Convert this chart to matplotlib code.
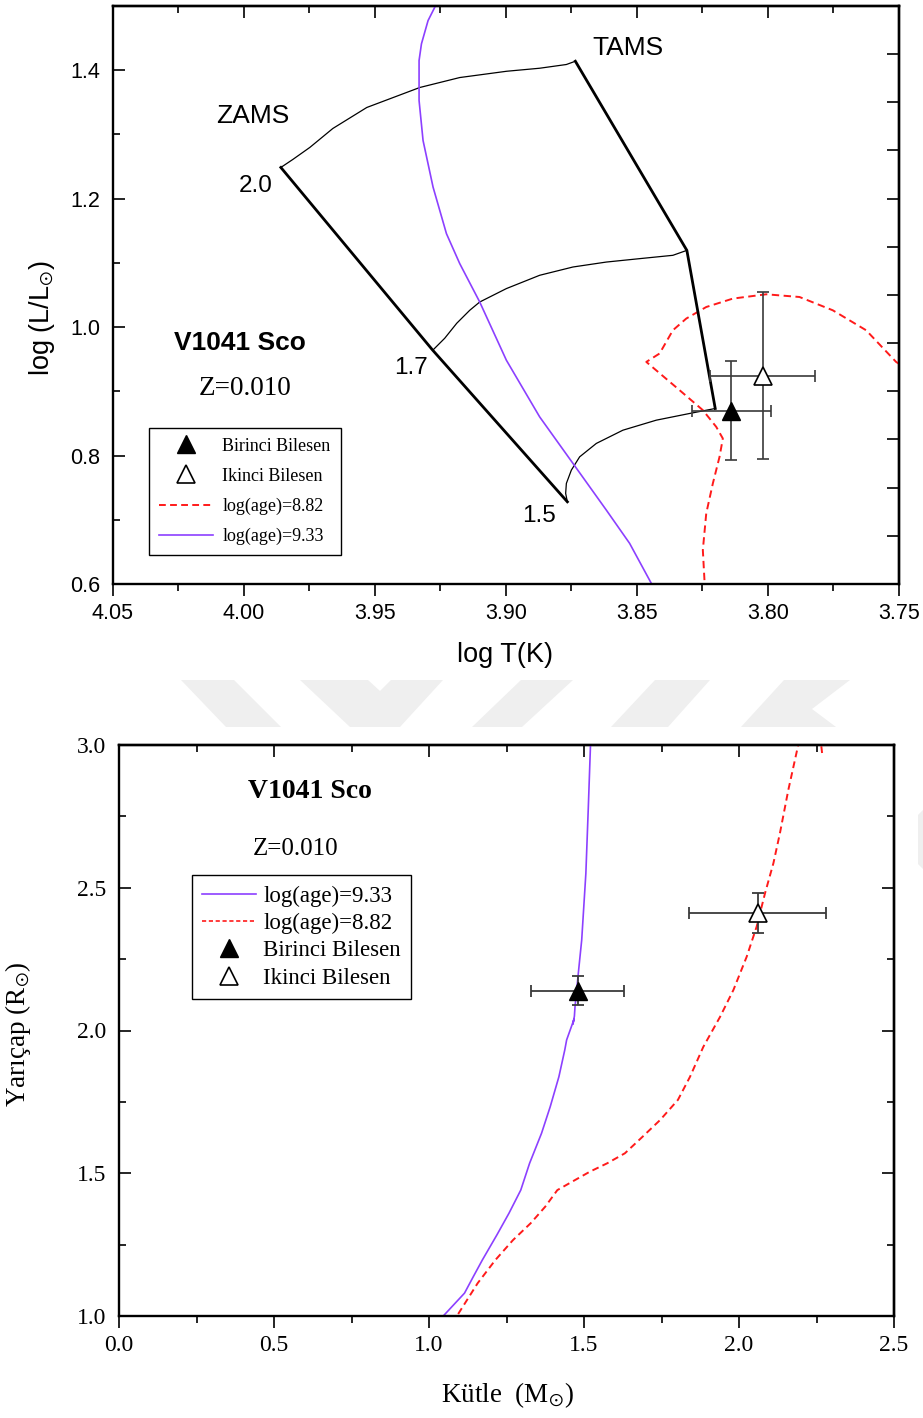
import numpy as np
import matplotlib
matplotlib.use("Agg")
import matplotlib.pyplot as plt
from matplotlib.lines import Line2D
from matplotlib.patches import Polygon

SANS = "Liberation Sans"
SERIF = "Liberation Serif"
plt.rcParams["mathtext.fontset"] = "stix"

PURPLE = "#8c40ff"
RED = "#ff1a1a"

# ---------------- HR diagram (log T, log L) ----------------
zams_logt = [3.98593, 3.92796, 3.87658]
zams_logl = [1.2486, 0.9640, 0.7280]
tams_logt = [3.87353, 3.83097, 3.82014]
tams_logl = [1.4140, 1.1195, 0.8733]

track20_logt = [3.98593, 3.98135, 3.97487, 3.96609, 3.95313, 3.93291, 3.91766,
                3.89973, 3.88715, 3.87696, 3.87353]
track20_logl = [1.2486, 1.2611, 1.2798, 1.3093, 1.3420, 1.3731, 1.3886,
                1.3984, 1.4031, 1.4089, 1.4140]
track17_logt = [3.92796, 3.92338, 3.91880, 3.91384, 3.91003, 3.89985, 3.88715,
                3.87445, 3.86171, 3.84901, 3.83630, 3.83097]
track17_logl = [0.9640, 0.9827, 1.0060, 1.0262, 1.0391, 1.0600, 1.0807,
                1.0936, 1.1013, 1.1066, 1.1118, 1.1195]
track15_logt = [3.87658, 3.87723, 3.87696, 3.87506, 3.87189, 3.86552, 3.85538,
                3.84264, 3.82994, 3.82014]
track15_logl = [0.7280, 0.7411, 0.7566, 0.7773, 0.7980, 0.8189, 0.8395,
                0.8551, 0.8655, 0.8733]

iso933_logt = [3.9264, 3.92719, 3.92975, 3.93227, 3.93318, 3.93318, 3.93166,
               3.92784, 3.92273, 3.91766, 3.91003, 3.89985, 3.88715, 3.87445,
               3.86171, 3.85282, 3.84455, 3.84405]
iso933_logl = [1.5084, 1.4980, 1.4773, 1.4411, 1.4151, 1.3529, 1.2906,
               1.2180, 1.1455, 1.0989, 1.0391, 0.9484, 0.8602, 0.7878,
               0.7151, 0.6633, 0.6011, 0.5907]
iso882_logt = [3.82441, 3.82422, 3.82487, 3.82357, 3.82105, 3.81850, 3.81724,
               3.81976, 3.82487, 3.83375, 3.84645, 3.84138, 3.83630, 3.83120,
               3.82357, 3.81343, 3.80069, 3.78798, 3.77528, 3.76255, 3.75111,
               3.74794]
iso882_logl = [0.5876, 0.6036, 0.6529, 0.7100, 0.7566, 0.7980, 0.8266,
               0.8447, 0.8707, 0.9018, 0.9458, 0.9589, 0.9951, 1.0133,
               1.0313, 1.0444, 1.0511, 1.0469, 1.0262, 0.9951, 0.9458,
               0.9375]

# observed components: [Birinci, Ikinci]
obs_logt = [3.814, 3.802]
obs_logt_err = [0.015, 0.020]
obs_logl = [0.870, 0.924]
obs_logl_err = [0.077, 0.130]

# ---------------- Mass-radius diagram ----------------
mr933_mass = [1.5216, 1.514, 1.506, 1.4926, 1.4816, 1.471, 1.469, 1.4640,
              1.4680, 1.444, 1.438, 1.419, 1.391, 1.363, 1.3245, 1.296,
              1.258, 1.219, 1.172, 1.143, 1.1145, 1.046, 1.040]
mr933_rad = [3.02, 2.784, 2.550, 2.317, 2.200, 2.083, 2.050, 2.022,
             2.040, 1.967, 1.932, 1.838, 1.733, 1.640, 1.535, 1.441,
             1.360, 1.284, 1.196, 1.138, 1.080, 1.0, 0.985]
mr882_mass = [2.268, 2.262, 2.235, 2.205, 2.191, 2.159, 2.132, 2.111, 2.084,
              2.057, 2.025, 1.982, 1.939, 1.885, 1.842, 1.803, 1.746, 1.689,
              1.632, 1.575, 1.518, 1.461, 1.414, 1.375, 1.328, 1.271, 1.214,
              1.157, 1.090, 1.083]
mr882_rad = [2.972, 3.03, 3.08, 3.05, 3.0, 2.842, 2.691, 2.586, 2.481,
             2.364, 2.259, 2.142, 2.048, 1.943, 1.838, 1.757, 1.687, 1.628,
             1.570, 1.535, 1.505, 1.470, 1.441, 1.383, 1.325, 1.266, 1.196,
             1.115, 1.0, 0.985]

obs_mass = [1.48, 2.06]
obs_mass_err = [0.15, 0.22]
obs_rad = [2.14, 2.41]
obs_rad_err = [0.05, 0.07]

labels_hr = ["Birinci Bilesen", "Ikinci Bilesen", "log(age)=8.82", "log(age)=9.33"]
labels_mr = ["log(age)=9.33", "log(age)=8.82", "Birinci Bilesen", "Ikinci Bilesen"]

W, H = 923, 1418
fig = plt.figure(figsize=(W / 100, H / 100), dpi=100)


def fig_xy(x, y):
    return (x / W, 1 - y / H)


# faint background chevrons between the panels
wm_color = "#efefef"
shapes = [
    [(181, 680), (234, 680), (281, 727), (226, 727)],
    [(300, 680), (368, 680), (380, 691), (391, 680), (443, 680), (400, 727), (350, 727)],
    [(521, 680), (573, 680), (522, 727), (472, 727)],
    [(655, 680), (710, 680), (668, 727), (611, 727)],
    [(784, 680), (850, 680), (812, 709), (836, 727), (741, 727)],
    [(918, 815), (923, 810), (923, 869), (918, 864)],
]
for s in shapes:
    fig.add_artist(Polygon([fig_xy(*p) for p in s], closed=True, transform=fig.transFigure,
                           facecolor=wm_color, edgecolor="none", zorder=0))

SPINE_LW = 1.7
MAJ_LEN, MIN_LEN, TICK_W = 8.6, 4.8, 1.2

# ================= top panel =================
ax1 = fig.add_axes([113 / W, 1 - 584 / H, 786 / W, 578 / H])
ax1.set_xlim(4.05, 3.75)
ax1.set_ylim(0.6, 1.5)

ax1.plot(track20_logt, track20_logl, color="black", lw=0.9, zorder=2)
ax1.plot(track17_logt, track17_logl, color="black", lw=0.9, zorder=2)
ax1.plot(track15_logt, track15_logl, color="black", lw=0.9, zorder=2)
ax1.plot(zams_logt, zams_logl, color="black", lw=2.0, zorder=3, solid_joinstyle="miter")
ax1.plot(tams_logt, tams_logl, color="black", lw=2.0, zorder=3, solid_joinstyle="miter")
ax1.plot(iso933_logt, iso933_logl, color=PURPLE, lw=1.2, zorder=2)
ax1.plot(iso882_logt, iso882_logl, color=RED, lw=1.4, ls=(0, (3.8, 2.3)), zorder=2)

ax1.errorbar(obs_logt, obs_logl, xerr=obs_logt_err, yerr=obs_logl_err, fmt="none",
             ecolor="#3a3a3a", elinewidth=1.2, capsize=4, capthick=1.2, zorder=4)
ax1.plot(obs_logt[0], obs_logl[0], marker="^", ls="none", ms=13, color="black", zorder=5)
ax1.plot(obs_logt[1], obs_logl[1], marker="^", ls="none", ms=13, mfc="white",
         mec="black", mew=1.2, zorder=5)

ax1.text(3.9966, 1.3293, "ZAMS", family=SANS, fontsize=19, ha="center", va="center")
ax1.text(3.8536, 1.4350, "TAMS", family=SANS, fontsize=19, ha="center", va="center")
ax1.text(3.9955, 1.2190, "2.0", family=SANS, fontsize=17.5, ha="center", va="center")
ax1.text(3.9363, 0.9360, "1.7", family=SANS, fontsize=17.5, ha="center", va="center")
ax1.text(3.8875, 0.7057, "1.5", family=SANS, fontsize=17.5, ha="center", va="center")
ax1.text(0.1616, 0.4175, "V1041 Sco", family=SANS, fontweight="bold", fontsize=19,
         ha="center", va="center", transform=ax1.transAxes)
ax1.text(0.1686, 0.3391, "Z=0.010", family=SERIF, fontsize=19.5,
         ha="center", va="center", transform=ax1.transAxes)

xt1 = [4.05, 4.00, 3.95, 3.90, 3.85, 3.80, 3.75]
yt1 = [0.6, 0.8, 1.0, 1.2, 1.4]
ax1.set_xticks(xt1, labels=["%.2f" % v for v in xt1], fontfamily=SANS, fontsize=15.5)
ax1.set_xticks(np.arange(4.025, 3.75, -0.05), minor=True)
ax1.set_yticks(yt1, labels=["%.1f" % v for v in yt1], fontfamily=SANS, fontsize=15.5)
ax1.set_yticks(np.arange(0.7, 1.5, 0.2), minor=True)
ax1.tick_params(axis="x", which="both", direction="out", top=False, width=TICK_W, pad=5)
ax1.tick_params(axis="y", which="both", direction="in", right=False, width=TICK_W, pad=9)
ax1.tick_params(which="major", length=MAJ_LEN)
ax1.tick_params(which="minor", length=MIN_LEN)

top1 = ax1.secondary_xaxis("top")
top1.set_xticks(xt1, labels=[])
top1.set_xticks(np.arange(4.025, 3.75, -0.05), minor=True)
top1.tick_params(which="both", direction="in", width=TICK_W)
top1.tick_params(which="major", length=MAJ_LEN)
top1.tick_params(which="minor", length=MIN_LEN)
right1 = ax1.secondary_yaxis("right")
right1.set_yticks(np.linspace(0.6, 1.5, 13), labels=[])
right1.tick_params(which="both", direction="in", width=TICK_W, length=MAJ_LEN)
for a in (ax1, top1, right1):
    for sp in a.spines.values():
        sp.set_linewidth(SPINE_LW)

ax1.set_xlabel("log T(K)", family=SANS, fontsize=19.5)
ax1.xaxis.set_label_coords(0.4987, -0.100)
ax1.set_ylabel("log (L/L$_{\\odot}$)", family=SANS, fontsize=19.5)
ax1.yaxis.set_label_coords(-0.071, 0.46)

h1 = [
    Line2D([], [], marker="^", ls="none", ms=13, color="black"),
    Line2D([], [], marker="^", ls="none", ms=13, mfc="white", mec="black", mew=1.2),
    Line2D([], [], color=RED, lw=1.4, ls=(0, (3.5, 2.2))),
    Line2D([], [], color=PURPLE, lw=1.2),
]
leg1 = ax1.legend(h1, labels_hr, loc="upper left", bbox_to_anchor=(0.0462, 0.2704),
                  borderaxespad=0, prop={"family": SERIF, "size": 13}, handlelength=3.0,
                  handletextpad=0.5, labelspacing=0.72, borderpad=0.55, frameon=True,
                  fancybox=False, edgecolor="black", framealpha=1, numpoints=1)
leg1.get_frame().set_linewidth(1.0)

# ================= bottom panel =================
ax2 = fig.add_axes([119 / W, 1 - 1316 / H, 775 / W, 571 / H])
ax2.set_xlim(0.0, 2.5)
ax2.set_ylim(1.0, 3.0)

ax2.plot(mr933_mass, mr933_rad, color=PURPLE, lw=1.2, zorder=2)
ax2.plot(mr882_mass, mr882_rad, color=RED, lw=1.4, ls=(0, (3.5, 2.2)), zorder=2)
ax2.errorbar(obs_mass, obs_rad, xerr=obs_mass_err, yerr=obs_rad_err, fmt="none",
             ecolor="#3a3a3a", elinewidth=1.3, capsize=4.5, capthick=1.3, zorder=4)
ax2.plot(obs_mass[0], obs_rad[0], marker="^", ls="none", ms=13.5, color="black", zorder=5)
ax2.plot(obs_mass[1], obs_rad[1], marker="^", ls="none", ms=13.5, mfc="white",
         mec="black", mew=1.2, zorder=5)

ax2.text(0.2465, 0.9177, "V1041 Sco", family=SERIF, fontweight="bold", fontsize=20,
         ha="center", va="center", transform=ax2.transAxes)
ax2.text(0.2284, 0.8179, "Z=0.010", family=SERIF, fontsize=18,
         ha="center", va="center", transform=ax2.transAxes)

xt2 = [0.0, 0.5, 1.0, 1.5, 2.0, 2.5]
yt2 = [1.0, 1.5, 2.0, 2.5, 3.0]
ax2.set_xticks(xt2, labels=["%.1f" % v for v in xt2], fontfamily=SERIF, fontsize=17)
ax2.set_xticks(np.arange(0.25, 2.5, 0.5), minor=True)
ax2.set_yticks(yt2, labels=["%.1f" % v for v in yt2], fontfamily=SERIF, fontsize=17)
ax2.set_yticks(np.arange(1.25, 3.0, 0.5), minor=True)
ax2.tick_params(axis="x", which="both", direction="out", top=False, width=TICK_W, pad=5)
ax2.tick_params(axis="y", which="both", direction="in", right=False, width=TICK_W, pad=9)
ax2.tick_params(which="major", length=MAJ_LEN)
ax2.tick_params(which="minor", length=MIN_LEN)

top2 = ax2.secondary_xaxis("top")
top2.set_xticks(xt2, labels=[])
top2.set_xticks(np.arange(0.25, 2.5, 0.5), minor=True)
top2.tick_params(which="both", direction="in", width=TICK_W)
top2.tick_params(which="major", length=MAJ_LEN)
top2.tick_params(which="minor", length=MIN_LEN)
right2 = ax2.secondary_yaxis("right")
right2.set_yticks(yt2, labels=[])
right2.set_yticks(np.arange(1.25, 3.0, 0.5), minor=True)
right2.tick_params(which="both", direction="in", width=TICK_W)
right2.tick_params(which="major", length=MAJ_LEN)
right2.tick_params(which="minor", length=MIN_LEN)
for a in (ax2, top2, right2):
    for sp in a.spines.values():
        sp.set_linewidth(SPINE_LW)

ax2.set_xlabel("Kütle  (M$_{\\odot}$)", family=SERIF, fontsize=19.5)
ax2.xaxis.set_label_coords(0.5006, -0.113)
ax2.set_ylabel("Yarıçap (R$_{\\odot}$)", family=SERIF, fontsize=19.5)
ax2.yaxis.set_label_coords(-0.1115, 0.493)

h2 = [
    Line2D([], [], color=PURPLE, lw=1.2),
    Line2D([], [], color=RED, lw=1.2, ls=(0, (2.5, 1.6))),
    Line2D([], [], marker="^", ls="none", ms=13.5, color="black"),
    Line2D([], [], marker="^", ls="none", ms=13.5, mfc="white", mec="black", mew=1.2),
]
leg2 = ax2.legend(h2, labels_mr, loc="upper left", bbox_to_anchor=(0.0942, 0.7718),
                  borderaxespad=0, prop={"family": SERIF, "size": 16.5}, handlelength=2.35,
                  handletextpad=0.3, labelspacing=0.27, borderpad=0.45, frameon=True,
                  fancybox=False, edgecolor="black", framealpha=1, numpoints=1)
leg2.get_frame().set_linewidth(1.0)

fig.savefig("out.png", dpi=100)
